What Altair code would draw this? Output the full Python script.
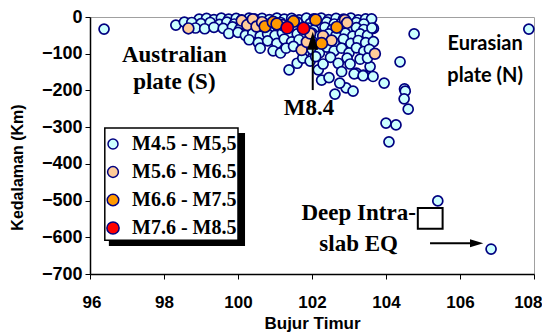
import altair as alt
import pandas as pd

# ---------------- data ----------------
cats = ["M4.5 - M5,5", "M5.6 - M6.5", "M6.6 - M7.5", "M7.6 - M8.5"]
fills = ["#CCFFFF", "#FFCC99", "#FF9900", "#FF0000"]
sizes = [100, 150, 230, 320]

blue_lon = [
    98.95, 99.15, 99.35, 99.55, 99.75, 99.95, 100.1, 100.3, 100.45, 100.65, 100.85, 101.05, 101.25,
    101.45, 101.65, 101.85, 102.05, 102.25, 102.45, 102.65, 102.85, 103.05, 103.25, 103.45, 103.61,
    98.32, 98.55, 98.75, 99.0, 99.25, 99.5, 99.7, 99.9, 100.15, 100.35, 100.55, 100.75, 100.95,
    101.15, 101.4, 101.6, 101.95, 102.2, 102.4, 102.6, 102.8, 103.0, 103.2, 103.4,
    98.85, 99.1, 99.35, 99.6, 99.85, 100.05, 100.25, 100.45, 100.65, 100.9, 101.1, 101.5, 101.9,
    102.05, 102.35, 102.55, 102.8, 103.0, 103.2, 103.4, 103.66,
    99.75, 100.0, 100.2, 100.4, 100.6, 100.8, 101.0, 101.2, 101.4, 101.6, 101.8, 102.0, 102.2,
    102.45, 102.65, 102.9, 103.1, 103.3, 103.5,
    100.3, 100.55, 100.8, 101.05, 101.25, 101.45, 101.65, 102.0, 102.15, 102.4, 102.6, 102.85,
    103.05, 103.25, 103.45, 103.66,
    100.6, 100.95, 101.15, 101.3, 101.5, 101.8, 102.0, 102.2, 102.4, 102.6, 102.8, 103.0, 103.2,
    103.4, 103.55,
    101.38, 101.6, 101.75, 101.95, 102.17, 102.3, 102.5, 102.71, 102.8, 102.95, 103.03, 103.2,
    103.3, 103.39, 103.57, 103.5, 104.38, 102.1,
    102.26, 102.46, 102.62, 102.92, 103.11, 103.14, 103.38, 103.65, 103.95, 102.75,
    104.5, 104.52, 104.49, 104.6, 104.0, 104.27, 104.08,
    96.38, 104.76, 103.62, 107.86, 105.4, 106.84,
]
blue_dep = [
    -6, -4, -7, -3, -6, -4, -8, -3, -6, -4, -7, -3, -6,
    -4, -8, -3, -5, -3, -7, -4, -6, -3, -8, -5, -5,
    -22, -14, -15, -18, -15, -20, -14, -19, -16, -21, -14, -19, -22,
    -15, -20, -14, -18, -22, -14, -19, -16, -21, -15, -19,
    -30, -32, -28, -31, -27, -33, -29, -35, -30, -36, -32, -35, -30,
    -36, -28, -34, -31, -36, -29, -34, -31,
    -45, -42, -50, -44, -52, -46, -50, -43, -52, -46, -50, -44, -52,
    -46, -50, -44, -52, -46, -50,
    -62, -70, -65, -72, -60, -68, -62, -66, -75, -62, -70, -60,
    -72, -64, -70, -67,
    -85, -92, -98, -85, -80, -95, -88, -98, -82, -92, -85, -98, -84,
    -94, -88,
    -144, -126, -112, -120, -144, -128, -110, -126, -149, -112, -128, -153,
    -115, -158, -135, -112, -122, -108,
    -172, -165, -210, -193, -202, -155, -160, -162, -180, -180,
    -196, -202, -223, -251, -289, -294, -340,
    -33, -46, -30, -33, -501, -632,
]

peach_lon = [98.66, 100.1, 100.25, 100.4, 100.5, 100.65, 101.72, 101.86, 102.3, 102.53, 102.89,
             102.95, 103.7, 101.2, 101.95]
peach_dep = [-31, -10, -22, -6, -26, -14, -90, -68, -52, -64, -8, -16, -100, -22, -45]

orange_lon = [100.73, 100.95, 101.05, 101.5, 102.1, 102.67, 102.26]
orange_dep = [-26, -14, -19, -12, -8, -28, -72]

red_lon = [101.33, 101.77]
red_dep = [-29, -31]

# annotations (data units)
serif_txt = ["Australian", "plate (S)", "M8.4", "Deep Intra-", "slab EQ"]
serif_lon = [98.28, 98.28, 101.92, 103.26, 103.26]
serif_dep = [-123, -196, -266, -554, -636]

sans_txt = ["Eurasian", "plate (N)"]
sans_lon = [106.68, 106.68]
sans_dep = [-89, -177]

# arrow shafts
shaft_lon = [102.02, 105.19]
shaft_lon2 = [102.02, 106.45]
shaft_dep = [-199, -616]
shaft_dep2 = [-75, -616]

# legend frame and shadow, deep box
frame_lon, frame_lon2, frame_dep, frame_dep2 = [96.4], [100.0], [-302], [-608]
shadow_lon, shadow_lon2, shadow_dep, shadow_dep2 = [96.51], [100.19], [-316], [-624]
box_lon, box_lon2, box_dep, box_dep2 = [104.86], [105.53], [-520], [-577]

# ---------------- frames ----------------
rows = []
for cat, lons, deps in zip(cats, [blue_lon, peach_lon, orange_lon, red_lon],
                           [blue_dep, peach_dep, orange_dep, red_dep]):
    for lo, de in zip(lons, deps):
        rows.append({"lon": lo, "dep": de, "cat": cat})
df = pd.DataFrame(rows)
df["ord"] = range(len(df))

serif_df = pd.DataFrame({"lon": serif_lon, "dep": serif_dep, "txt": serif_txt})
sans_df = pd.DataFrame({"lon": sans_lon, "dep": sans_dep, "txt": sans_txt})
shaft_df = pd.DataFrame({"lon": shaft_lon, "lon2": shaft_lon2, "dep": shaft_dep, "dep2": shaft_dep2})
head_up_df = pd.DataFrame({"lon": [102.02], "dep": [-65]})
head_right_df = pd.DataFrame({"lon": [106.45], "dep": [-616]})
frame_df = pd.DataFrame({"lon": frame_lon, "lon2": frame_lon2, "dep": frame_dep, "dep2": frame_dep2})
shadow_df = pd.DataFrame({"lon": shadow_lon, "lon2": shadow_lon2, "dep": shadow_dep, "dep2": shadow_dep2})
box_df = pd.DataFrame({"lon": box_lon, "lon2": box_lon2, "dep": box_dep, "dep2": box_dep2})

xs = alt.Scale(domain=[96, 108], nice=False)
ys = alt.Scale(domain=[-700, 0], nice=False)

x_axis = alt.Axis(values=list(range(96, 109, 2)), title="Bujur Timur", grid=False,
                  labelFont="Liberation Sans", labelFontSize=17, labelFontWeight="bold",
                  labelColor="black", labelBaseline="alphabetic", labelPadding=28,
                  labelFlush=True, labelFlushOffset=8, labelOverlap=False,
                  tickSize=5, tickColor="black", domainColor="black", domainWidth=1.5,
                  titleFont="Liberation Sans", titleFontSize=17, titleFontWeight="bold",
                  titleColor="black", titleBaseline="alphabetic", titleY=54)
y_axis = alt.Axis(values=list(range(-700, 1, 100)), title="Kedalaman (Km)", grid=False,
                  labelFont="Liberation Sans", labelFontSize=18, labelFontWeight="bold",
                  labelColor="black", labelPadding=3, labelFlush=False, labelOverlap=False,
                  tickSize=5, tickColor="black", domainColor="black", domainWidth=1.5,
                  titleFont="Liberation Sans", titleFontSize=16, titleFontWeight="bold",
                  titleColor="black", titleBaseline="alphabetic", titleX=-68, titleY=150)

X = alt.X("lon:Q", scale=xs, axis=x_axis)
Y = alt.Y("dep:Q", scale=ys, axis=y_axis)

shadow = alt.Chart(shadow_df).mark_rect(fill="black").encode(
    x=X, x2="lon2:Q", y=Y, y2="dep2:Q")
frame = alt.Chart(frame_df).mark_rect(fill="white", stroke="black", strokeWidth=1.5).encode(
    x=X, x2="lon2:Q", y=Y, y2="dep2:Q")
box = alt.Chart(box_df).mark_rect(fill="white", stroke="black", strokeWidth=2).encode(
    x=X, x2="lon2:Q", y=Y, y2="dep2:Q")

points = alt.Chart(df).mark_point(filled=True, opacity=1, stroke="#000080", strokeWidth=1.7,
                                  shape="circle").encode(
    x=X, y=Y,
    color=alt.Color("cat:N", scale=alt.Scale(domain=cats, range=fills),
                    legend=alt.Legend(orient="none", legendX=13, legendY=117, title=None,
                                      labelFont="Liberation Serif", labelFontSize=20,
                                      labelFontWeight="bold", labelColor="black",
                                      symbolType="circle", symbolSize=56,
                                      symbolStrokeColor="#000080", symbolStrokeWidth=1.5,
                                      symbolOpacity=1, rowPadding=8, labelOffset=9,
                                      padding=0, zindex=2, labelLimit=300)),
    size=alt.Size("cat:O", scale=alt.Scale(domain=cats, range=sizes), legend=None),
    order=alt.Order("ord:Q"),
)

serif = alt.Chart(serif_df).mark_text(font="Liberation Serif", fontSize=23, fontWeight="bold",
                                      align="center", baseline="alphabetic", color="black").encode(
    x=X, y=Y, text="txt:N")
sans = alt.Chart(sans_df).mark_text(font="Lato", fontSize=20, fontWeight="bold",
                                    align="center", baseline="alphabetic", color="black").encode(
    x=X, y=Y, text="txt:N")
shafts = alt.Chart(shaft_df).mark_rule(color="black", strokeWidth=2).encode(
    x=X, x2="lon2:Q", y=Y, y2="dep2:Q")
head_up = alt.Chart(head_up_df).mark_point(shape="M0,-1L0.62,1L-0.62,1Z", filled=True,
                                           color="black", opacity=1, size=324).encode(x=X, y=Y)
head_right = alt.Chart(head_right_df).mark_point(shape="M1,0L-1,-0.6L-1,0.6Z", filled=True,
                                                 color="black", opacity=1, size=177).encode(x=X, y=Y)

chart = alt.layer(shadow, frame, box, points, shafts, head_up, head_right, serif, sans).properties(
    width=444, height=257,
    autosize=alt.AutoSizeParams(type="none"),
    padding={"left": 82, "top": 9, "right": 8, "bottom": 60},
    background="white",
).configure_view(stroke="#a0a0a0", strokeWidth=1)

chart.save("out.html", embed_options={"renderer": "svg", "actions": False})
